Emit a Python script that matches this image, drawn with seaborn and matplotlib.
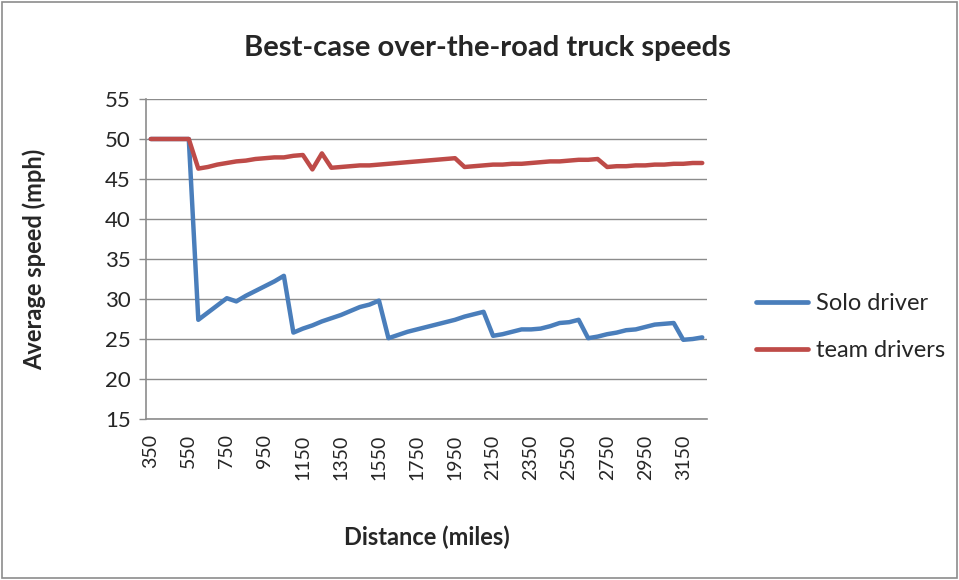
import matplotlib
matplotlib.use("Agg")
import matplotlib.pyplot as plt
import matplotlib.ticker as mticker
import pandas as pd
import seaborn as sns

# Distances in miles (categorical axis, step 50)
distance = list(range(350, 3300, 50))

solo_driver = [
    50, 50, 50, 50, 50,
    27.4, 28.3, 29.2, 30.1, 29.7, 30.4, 31.0, 31.6, 32.2, 32.9,
    25.8, 26.3, 26.7, 27.2, 27.6, 28.0, 28.5, 29.0, 29.3, 29.8,
    25.1, 25.5, 25.9, 26.2, 26.5, 26.8, 27.1, 27.4, 27.8, 28.1, 28.4,
    25.4, 25.6, 25.9, 26.2, 26.2, 26.3, 26.6, 27.0, 27.1, 27.4,
    25.1, 25.3, 25.6, 25.8, 26.1, 26.2, 26.5, 26.8, 26.9, 27.0,
    24.9, 25.0, 25.2,
]

team_drivers = [
    50, 50, 50, 50, 50,
    46.3, 46.5, 46.8, 47.0, 47.2, 47.3, 47.5, 47.6, 47.7, 47.7, 47.9, 48.0,
    46.2, 48.2,
    46.4, 46.5, 46.6, 46.7, 46.7, 46.8, 46.9, 47.0, 47.1, 47.2, 47.3, 47.4, 47.5, 47.6,
    46.5, 46.6, 46.7, 46.8, 46.8, 46.9, 46.9, 47.0, 47.1, 47.2, 47.2, 47.3, 47.4, 47.4, 47.5,
    46.5, 46.6, 46.6, 46.7, 46.7, 46.8, 46.8, 46.9, 46.9, 47.0, 47.0,
]

series_names = ["Solo driver", "team drivers"]
series_colors = ["#4A7EBB", "#BE4B48"]

df = pd.DataFrame({"Distance": [str(d) for d in distance],
                   "Solo driver": solo_driver,
                   "team drivers": team_drivers})
df_long = df.melt(id_vars="Distance", var_name="series", value_name="speed")

sns.set_style("white")
plt.rcParams["font.family"] = ["Lato", "DejaVu Sans"]

fig = plt.figure(figsize=(9.59, 5.8), dpi=100)
ax = fig.add_axes([146 / 959, 1 - 419 / 580, (707 - 146) / 959, (419 - 99) / 580])

sns.lineplot(data=df_long, x="Distance", y="speed", hue="series",
             hue_order=series_names, palette=series_colors, sort=False,
             linewidth=3.2, ax=ax, legend=False)

# Axes styling (Excel-like)
n = len(distance)
ax.set_xlim(-0.5, n - 0.5)
ax.set_ylim(15, 55)
ax.yaxis.set_major_locator(mticker.MultipleLocator(5))
ax.grid(axis="y", color="#8c8c8c", linewidth=1)
ax.set_axisbelow(True)
for side in ["top", "right"]:
    ax.spines[side].set_visible(False)
for side in ["left", "bottom"]:
    ax.spines[side].set_color("#8c8c8c")
    ax.spines[side].set_linewidth(1.2)

label_pos = list(range(0, n, 4))
ax.xaxis.set_major_locator(mticker.FixedLocator(label_pos))
ax.set_xticklabels([distance[i] for i in label_pos], rotation=90)
ax.xaxis.set_minor_locator(mticker.FixedLocator([i - 0.5 for i in range(n + 1)]))
ax.tick_params(axis="x", which="major", length=0, pad=11, labelsize=14)
ax.tick_params(axis="x", which="minor", length=5, color="#8c8c8c", width=1)
ax.tick_params(axis="y", which="major", length=5, color="#8c8c8c", width=1,
               labelsize=16, pad=6, left=True)

ax.set_xlabel("Distance (miles)", fontsize=17, fontweight="bold")
ax.xaxis.set_label_coords(0.5, (419 - 526) / 320)
ax.set_ylabel("Average speed (mph)", fontsize=17, fontweight="bold")
ax.yaxis.set_label_coords((46 - 146) / 561, 0.5)
fig.text(487 / 959, 1 - 48 / 580, "Best-case over-the-road truck speeds",
         ha="center", va="center", fontsize=21, fontweight="bold")

handles = [plt.Line2D([], [], color=c, linewidth=3.4) for c in series_colors]
fig.legend(handles, series_names, loc="center left",
           bbox_to_anchor=(735 / 959, 1 - 327 / 580), frameon=False,
           fontsize=17, handlelength=2.2, labelspacing=1.1, handletextpad=0.35)

# chart border
fig.patches.append(plt.Rectangle((0.002, 0.003), 0.996, 0.994, transform=fig.transFigure,
                                 fill=False, edgecolor="#8c8c8c", linewidth=1.2))

fig.savefig("out.png", dpi=100)
